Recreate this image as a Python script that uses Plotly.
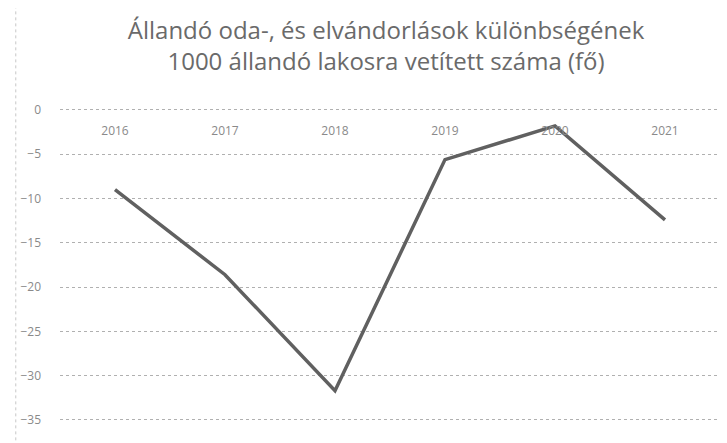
import plotly.graph_objects as go

years = ["2016", "2017", "2018", "2019", "2020", "2021"]
values = [-9.0, -18.6, -31.7, -5.6, -1.8, -12.4]
y_ticks = [0, -5, -10, -15, -20, -25, -30, -35]
title_lines = ["Állandó oda-, és elvándorlások különbségének",
               "1000 állandó lakosra vetített száma (fő)"]

fig = go.Figure()
fig.add_trace(go.Scatter(
    x=years, y=values, mode="lines",
    line=dict(color="#606060", width=3.5),
    hoverinfo="x+y",
))

fig.update_layout(
    width=727, height=443,
    margin=dict(l=52, r=15, t=98, b=8),
    paper_bgcolor="white", plot_bgcolor="white",
    showlegend=False,
    font=dict(family="'Open Sans', sans-serif", color="#7f7f7f"),
    title=dict(
        text="<br>".join(title_lines),
        x=0.52, xanchor="center", y=0.93, yanchor="top",
        font=dict(size=24, color="#6a6a6a", family="'Open Sans', sans-serif"),
    ),
    xaxis=dict(
        type="category", range=[-0.5, 5.5],
        anchor="free", position=0.952,
        showgrid=False, showline=False, ticks="",
        tickfont=dict(size=12, color="#8a8a8a"),
    ),
    yaxis=dict(
        range=[-37.6, 0.45], tickvals=y_ticks,
        showgrid=True, gridcolor="#b0b0b0", griddash="dot", gridwidth=1,
        zeroline=False, showline=False, ticks="",
        ticklabelstandoff=18,
        tickfont=dict(size=12, color="#8a8a8a"),
    ),
    shapes=[
        dict(type="line", xref="paper", yref="paper", x0=-0.065, x1=0.75, y0=-0.005, y1=-0.005,
             line=dict(color="#b5b5b5", width=1, dash="dot")),
        dict(type="line", xref="paper", yref="paper", x0=-0.067, x1=-0.067, y0=-0.01, y1=1.3,
             line=dict(color="#c8c8c8", width=1, dash="dot")),
    ],
)

fig.write_html("out.html")
